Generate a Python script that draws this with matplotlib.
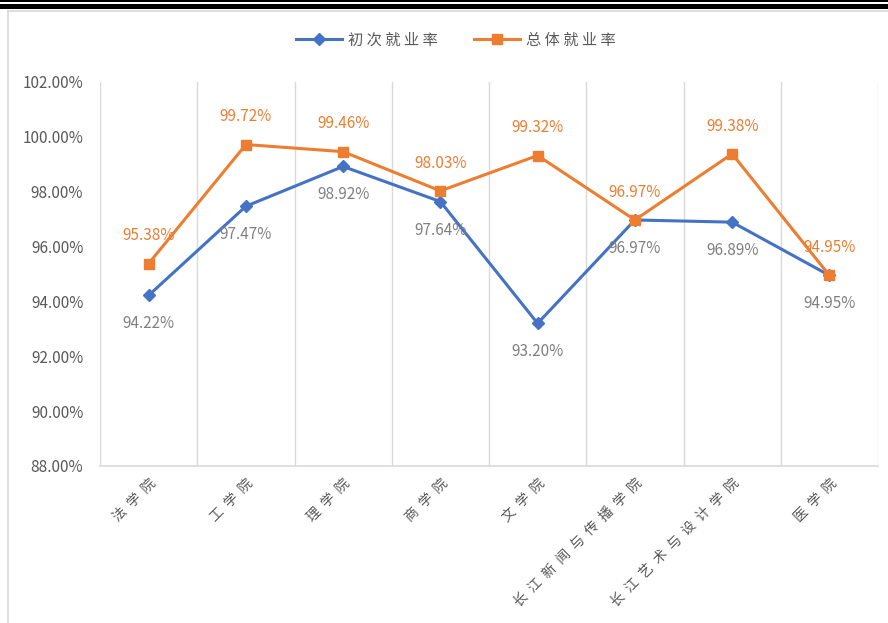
import matplotlib
matplotlib.use("Agg")
import matplotlib.pyplot as plt
from matplotlib.lines import Line2D
from matplotlib.patches import Rectangle
from matplotlib.ticker import FixedLocator, FuncFormatter

plt.rcParams['font.family'] = ['Noto Sans CJK SC', 'DejaVu Sans']

categories = ["法学院", "工学院", "理学院", "商学院", "文学院",
              "长江新闻与传播学院", "长江艺术与设计学院", "医学院"]
initial_rate = [94.22, 97.47, 98.92, 97.64, 93.20, 96.97, 96.89, 94.95]
overall_rate = [95.38, 99.72, 99.46, 98.03, 99.32, 96.97, 99.38, 94.95]
series_names = ["初次就业率", "总体就业率"]
y_ticks = [88, 90, 92, 94, 96, 98, 100, 102]

BLUE = "#4472C4"
ORANGE = "#ED7D31"
TICK = "#595959"
GRID = "#D9D9D9"

W, H = 888, 623
fig = plt.figure(figsize=(W / 100, H / 100), dpi=100)

# top double rule
fig.add_artist(Rectangle((0, 1 - 2 / H), 1, 2 / H, transform=fig.transFigure,
                         facecolor="black", edgecolor="none"))
fig.add_artist(Rectangle((0, 1 - 8.5 / H), 1, 4.5 / H, transform=fig.transFigure,
                         facecolor="black", edgecolor="none"))
# light chart border
fig.add_artist(Line2D([7.5 / W, 7.5 / W], [0, 1 - 11 / H], transform=fig.transFigure,
                      color=GRID, lw=1.2))
fig.add_artist(Line2D([7.5 / W, 1], [1 - 11 / H, 1 - 11 / H], transform=fig.transFigure,
                      color=GRID, lw=1.2))

left, right, top, bottom = 100, 878, 82, 466
ax = fig.add_axes([left / W, (H - bottom) / H, (right - left) / W, (bottom - top) / H])

x = list(range(len(categories)))
ax.plot(x, initial_rate, color=BLUE, lw=2.2, marker="D", markersize=6.5,
        label=" ".join(series_names[0]), zorder=3)
ax.plot(x, overall_rate, color=ORANGE, lw=2.2, marker="s", markersize=7,
        label=" ".join(series_names[1]), zorder=3)

for xi, v in zip(x, overall_rate):
    ax.annotate(f"{v:.2f}%", (xi, v), xytext=(0, 20), textcoords="offset points",
                ha="center", va="center", color=ORANGE, fontsize=11, zorder=4)
for xi, v in zip(x, initial_rate):
    ax.annotate(f"{v:.2f}%", (xi, v), xytext=(0, -20.5), textcoords="offset points",
                ha="center", va="center", color="#808080", fontsize=11, zorder=4)

ax.set_xlim(-0.5, len(categories) - 0.5)
ax.set_ylim(88, 102)
ax.set_yticks(y_ticks)
ax.yaxis.set_major_formatter(FuncFormatter(lambda v, p: f"{v:.2f}%"))
ax.tick_params(axis="y", length=0, pad=12, labelcolor=TICK, labelsize=11)

ax.set_xticks(x)
ax.set_xticklabels(["  ".join(c) for c in categories], rotation=45, ha="right",
                   rotation_mode="anchor", color=TICK, fontsize=10)
ax.tick_params(axis="x", length=0, pad=7)
ax.xaxis.set_minor_locator(FixedLocator([i - 0.5 for i in range(len(categories) + 1)]))
ax.grid(which="minor", axis="x", color=GRID, lw=1)
ax.tick_params(which="minor", length=0)

for s in ["top", "left", "right"]:
    ax.spines[s].set_visible(False)
ax.spines["bottom"].set_color(GRID)
ax.spines["bottom"].set_linewidth(1.2)

leg = fig.legend(loc="center", bbox_to_anchor=(456 / W, 1 - 40 / H), ncol=2,
                 frameon=False, fontsize=11, handlelength=3.0, columnspacing=2.4,
                 handletextpad=0.4)
for t in leg.get_texts():
    t.set_color(TICK)

fig.savefig("out.png", dpi=100)
